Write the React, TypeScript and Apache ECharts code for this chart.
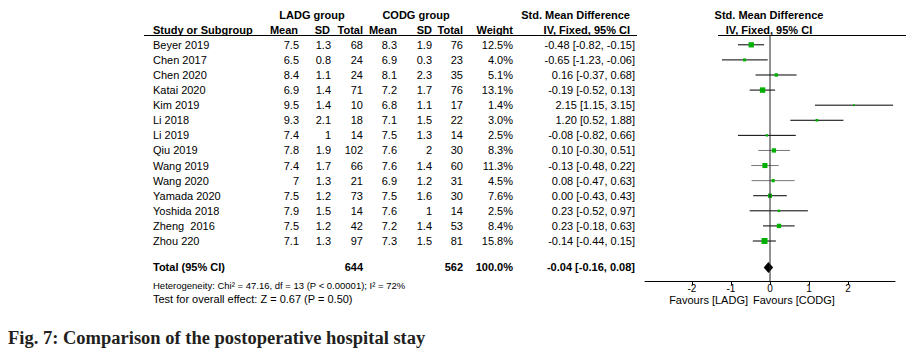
import React, { useEffect, useRef } from "react";
import * as echarts from "echarts";

const studies = ["Beyer 2019", "Chen 2017", "Chen 2020", "Katai 2020", "Kim 2019", "Li 2018", "Li 2019", "Qiu 2019", "Wang 2019", "Wang 2020", "Yamada 2020", "Yoshida 2018", "Zheng  2016", "Zhou 220"];
const ladgMean = [7.5, 6.5, 8.4, 6.9, 9.5, 9.3, 7.4, 7.8, 7.4, 7, 7.5, 7.9, 7.5, 7.1];
const ladgSd = [1.3, 0.8, 1.1, 1.4, 1.4, 2.1, 1, 1.9, 1.7, 1.3, 1.2, 1.5, 1.2, 1.3];
const ladgTotal = [68, 24, 24, 71, 10, 18, 14, 102, 66, 21, 73, 14, 42, 97];
const codgMean = [8.3, 6.9, 8.1, 7.2, 6.8, 7.1, 7.5, 7.6, 7.6, 6.9, 7.5, 7.6, 7.2, 7.3];
const codgSd = [1.9, 0.3, 2.3, 1.7, 1.1, 1.5, 1.3, 2, 1.4, 1.2, 1.6, 1, 1.4, 1.5];
const codgTotal = [76, 23, 35, 76, 17, 22, 14, 30, 60, 31, 30, 14, 53, 81];
const weights = [12.5, 4.0, 5.1, 13.1, 1.4, 3.0, 2.5, 8.3, 11.3, 4.5, 7.6, 2.5, 8.4, 15.8];
const smd = [-0.48, -0.65, 0.16, -0.19, 2.15, 1.2, -0.08, 0.1, -0.13, 0.08, 0.0, 0.23, 0.23, -0.14];
const ciLow = [-0.82, -1.23, -0.37, -0.52, 1.15, 0.52, -0.82, -0.3, -0.48, -0.47, -0.43, -0.52, -0.18, -0.44];
const ciHigh = [-0.15, -0.06, 0.68, 0.13, 3.15, 1.88, 0.66, 0.51, 0.22, 0.63, 0.43, 0.97, 0.63, 0.15];

const totalLadg = 644;
const totalCodg = 562;
const totalWeight = 100.0;
const pooled = [-0.04, -0.16, 0.08];
const heterogeneityText = "Heterogeneity: Chi² = 47.16, df = 13 (P < 0.00001); I² = 72%";
const overallText = "Test for overall effect: Z = 0.67 (P = 0.50)";
const xTicks = [-2, -1, 0, 1, 2];
const grayCiStudies = ["Qiu 2019", "Wang 2019", "Wang 2020"];

const FONT = "Liberation Sans, Arial, sans-serif";
const f = (v: number) => v.toFixed(2);
const ciText = (m: number, l: number, h: number) => `${f(m)} [${f(l)}, ${f(h)}]`;

const Y_MIN = -0.65;
const Y_MAX = 15.65;
const TOTAL_ROW = 14.75;

function txt(text: string, x: number, y: number, align: string, bold = false, size = 11, family = FONT) {
  return {
    type: "text",
    style: {
      text,
      x,
      y,
      textAlign: align,
      textVerticalAlign: "middle",
      font: `${bold ? "bold " : ""}${size}px ${family}`,
      fill: "#000",
    },
  };
}

const columns: { x: number; align: string; get: (i: number) => string }[] = [
  { x: 153, align: "left", get: (i) => studies[i] },
  { x: 299, align: "right", get: (i) => String(ladgMean[i]) },
  { x: 331, align: "right", get: (i) => String(ladgSd[i]) },
  { x: 363, align: "right", get: (i) => String(ladgTotal[i]) },
  { x: 397, align: "right", get: (i) => String(codgMean[i]) },
  { x: 432, align: "right", get: (i) => String(codgSd[i]) },
  { x: 463, align: "right", get: (i) => String(codgTotal[i]) },
  { x: 513, align: "right", get: (i) => weights[i].toFixed(1) + "%" },
  { x: 635, align: "right", get: (i) => ciText(smd[i], ciLow[i], ciHigh[i]) },
];

export default function App() {
  const ref = useRef<HTMLDivElement>(null);
  useEffect(() => {
    if (!ref.current) return;
    const chart = echarts.init(ref.current, null, { renderer: "svg" });
    const headerY1 = 15;
    const headerY2 = 30;
    const option: any = {
      animation: false,
      grid: { left: 645, right: 11, top: 35, bottom: 71, containLabel: false },
      xAxis: {
        type: "value",
        min: -3.2,
        max: 3.2,
        splitLine: { show: false },
        axisLine: { show: true, onZero: false, lineStyle: { color: "#000", width: 1 } },
        axisTick: { show: true, customValues: xTicks, length: 4, lineStyle: { color: "#000" } },
        axisLabel: { customValues: xTicks, margin: 2, color: "#000", fontSize: 10, fontFamily: FONT },
      },
      yAxis: { type: "value", inverse: true, min: Y_MIN, max: Y_MAX, show: false },
      series: [
        {
          type: "line",
          data: [[0, Y_MIN], [0, Y_MAX]],
          symbol: "none",
          lineStyle: { color: "#222", width: 1 },
          silent: true,
        },
        {
          type: "custom",
          encode: { x: [0, 1, 2], y: 3 },
          data: studies.map((_, i) => [smd[i], ciLow[i], ciHigh[i], i]),
          renderItem: (params: any, api: any) => {
            const idx = params.dataIndex;
            const row = api.value(3);
            const pMid = api.coord([api.value(0), row]);
            const pLo = api.coord([api.value(1), row]);
            const pHi = api.coord([api.value(2), row]);
            const y = pMid[1];
            const s = Math.sqrt(weights[idx]) * 1.5;
            const stroke = grayCiStudies.includes(studies[idx]) ? "#777" : "#000";
            const children: any[] = [
              { type: "line", shape: { x1: pLo[0], y1: y, x2: pHi[0], y2: y }, style: { stroke, lineWidth: 1 } },
              { type: "rect", shape: { x: pMid[0] - s / 2, y: y - s / 2, width: s, height: s }, style: { fill: "#00b000" } },
            ];
            columns.forEach((c) => children.push(txt(c.get(idx), c.x, y, c.align)));
            return { type: "group", children };
          },
        },
        {
          type: "custom",
          encode: { x: [0, 1, 2], y: 3 },
          data: [[pooled[0], pooled[1], pooled[2], TOTAL_ROW]],
          renderItem: (params: any, api: any) => {
            const row = api.value(3);
            const pMid = api.coord([api.value(0), row]);
            const pLo = api.coord([api.value(1), row]);
            const pHi = api.coord([api.value(2), row]);
            const y = pMid[1];
            return {
              type: "group",
              children: [
                {
                  type: "polygon",
                  shape: { points: [[pLo[0], y], [pMid[0], y - 5.5], [pHi[0], y], [pMid[0], y + 5.5]] },
                  style: { fill: "#000" },
                },
                txt("Total (95% CI)", 153, y, "left", true),
                txt(String(totalLadg), 363, y, "right", true),
                txt(String(totalCodg), 463, y, "right", true),
                txt(totalWeight.toFixed(1) + "%", 513, y, "right", true),
                txt(ciText(pooled[0], pooled[1], pooled[2]), 635, y, "right", true),
              ],
            };
          },
        },
      ],
      graphic: [
        txt("LADG group", 312, headerY1, "center", true),
        txt("CODG group", 416, headerY1, "center", true),
        txt("Std. Mean Difference", 630, headerY1, "right", true),
        txt("Std. Mean Difference", 769, headerY1, "center", true),
        txt("Study or Subgroup", 153, headerY2, "left", true),
        txt("Mean", 298, headerY2, "right", true),
        txt("SD", 330, headerY2, "right", true),
        txt("Total", 363, headerY2, "right", true),
        txt("Mean", 397, headerY2, "right", true),
        txt("SD", 432, headerY2, "right", true),
        txt("Total", 463, headerY2, "right", true),
        txt("Weight", 513, headerY2, "right", true),
        txt("IV, Fixed, 95% CI", 630, headerY2, "right", true),
        txt("IV, Fixed, 95% CI", 769, headerY2, "center", true),
        { type: "line", shape: { x1: 144, y1: 35.5, x2: 637, y2: 35.5 }, style: { stroke: "#000", lineWidth: 1 } },
        { type: "line", shape: { x1: 718, y1: 35.5, x2: 906, y2: 35.5 }, style: { stroke: "#000", lineWidth: 1 } },
        txt(heterogeneityText, 153, 285, "left", false, 9.5),
        txt(overallText, 153, 299, "left"),
        txt("Favours [LADG]", 748, 300, "right"),
        txt("Favours [CODG]", 753, 300, "left"),
        {
          type: "text",
          style: {
            text: "Fig. 7: Comparison of the postoperative hospital stay",
            x: 8,
            y: 338,
            textAlign: "left",
            textVerticalAlign: "middle",
            font: "bold 18.5px Liberation Serif, Times New Roman, serif",
            fill: "#231f20",
          },
        },
      ],
    };
    chart.setOption(option);
    return () => chart.dispose();
  }, []);
  return (
    <div
      ref={ref}
      style={{ position: "fixed", left: 0, top: 0, width: 906, height: 352, background: "#fff" }}
    />
  );
}
